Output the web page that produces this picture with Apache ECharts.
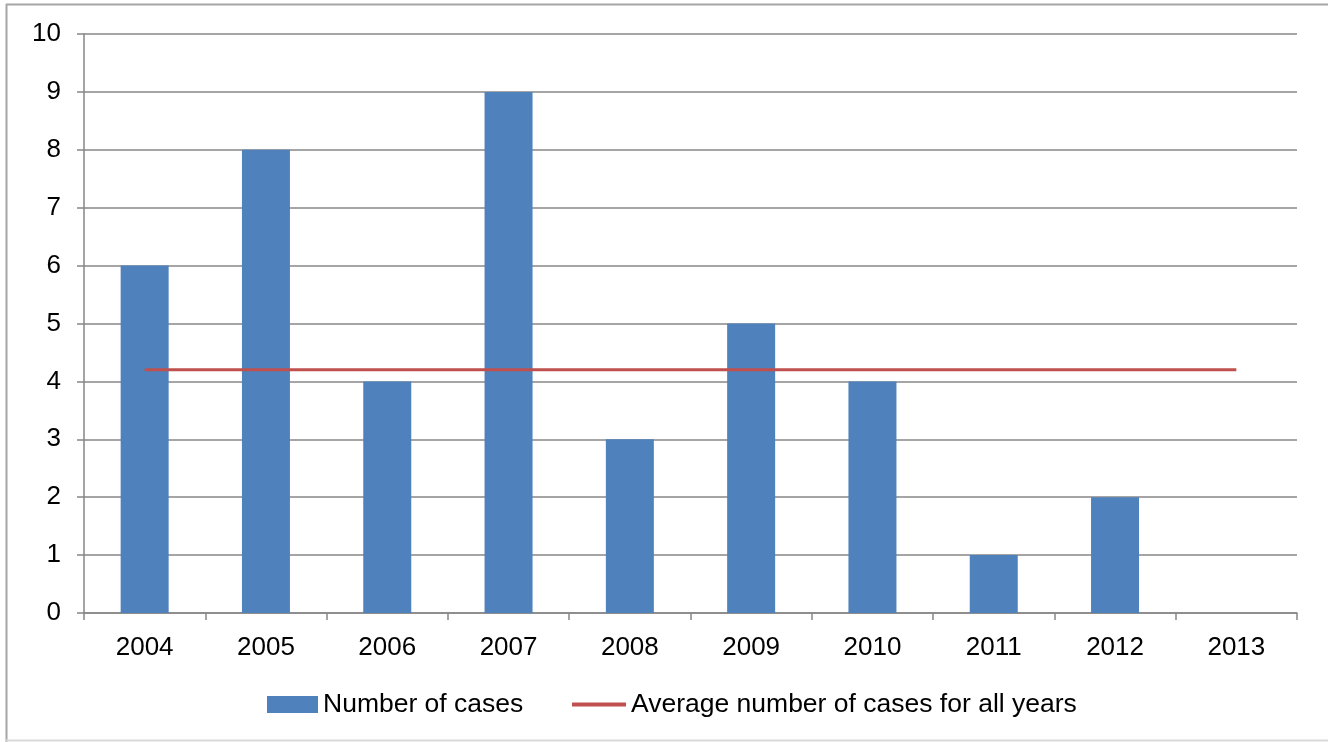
<!DOCTYPE html>
<html>
<head>
<meta charset="utf-8">
<style>
  html, body { margin: 0; padding: 0; background: #ffffff; }
  #chart { width: 1328px; height: 742px; }
</style>
<script src="https://cdn.jsdelivr.net/npm/echarts@6/dist/echarts.min.js"></script>
</head>
<body>
<div id="chart"></div>
<script>
// Yearly case counts and the overall average
const years = ['2004', '2005', '2006', '2007', '2008', '2009', '2010', '2011', '2012', '2013'];
const cases = [6, 8, 4, 9, 3, 5, 4, 1, 2, 0];
const averageCases = [4.2, 4.2, 4.2, 4.2, 4.2, 4.2, 4.2, 4.2, 4.2, 4.2];
const yTicks = [0, 1, 2, 3, 4, 5, 6, 7, 8, 9, 10];

const seriesNames = ['Number of cases', 'Average number of cases for all years'];

const chart = echarts.init(document.getElementById('chart'), null, { renderer: 'canvas' });

const font = 'Liberation Sans, Arial, sans-serif';
const fontSize = 26;
const legendFontSize = 26.5;

chart.setOption({
  animation: false,
  backgroundColor: '#ffffff',
  textStyle: { fontFamily: font },
  graphic: [
    { type: 'line', shape: { x1: 6, y1: 4.5, x2: 1328, y2: 4.5 }, style: { stroke: '#a6a6a6', lineWidth: 2 } },
    { type: 'line', shape: { x1: 6.5, y1: 4, x2: 6.5, y2: 742 }, style: { stroke: '#a6a6a6', lineWidth: 2 } },
    { type: 'line', shape: { x1: 6, y1: 740.5, x2: 1328, y2: 740.5 }, style: { stroke: '#d9d9d9', lineWidth: 2 } }
  ],
  grid: { left: 84, right: 31, top: 34, bottom: 129, containLabel: false },
  legend: [
    {
      left: 267,
      top: 691,
      padding: 0,
      itemWidth: 51,
      itemHeight: 17,
      textStyle: { fontSize: legendFontSize, color: '#000000', fontFamily: font },
      data: [{ name: seriesNames[0], icon: 'rect' }]
    },
    {
      left: 572,
      top: 691,
      padding: 0,
      itemWidth: 54,
      itemHeight: 4,
      textStyle: { fontSize: legendFontSize, color: '#000000', fontFamily: font },
      data: [{ name: seriesNames[1], icon: 'rect' }]
    }
  ],
  xAxis: {
    type: 'category',
    data: years,
    boundaryGap: true,
    axisLine: { lineStyle: { color: '#868686', width: 1.5 } },
    axisTick: { show: true, length: 7, lineStyle: { color: '#868686', width: 1.5 } },
    axisLabel: { fontSize: fontSize, color: '#000000', margin: 22, fontFamily: font },
    splitLine: { show: false }
  },
  yAxis: {
    type: 'value',
    min: yTicks[0],
    max: yTicks[yTicks.length - 1],
    interval: 1,
    axisLine: { show: true, lineStyle: { color: '#868686', width: 1.5 } },
    axisTick: { show: true, length: 7, lineStyle: { color: '#868686', width: 1.5 } },
    axisLabel: { fontSize: fontSize, color: '#000000', margin: 23, fontFamily: font },
    splitLine: { show: true, lineStyle: { color: '#878787', width: 1.5 } }
  },
  series: [
    {
      name: seriesNames[0],
      type: 'bar',
      data: cases,
      barWidth: 48,
      itemStyle: { color: '#4F81BD' }
    },
    {
      name: seriesNames[1],
      type: 'line',
      data: averageCases,
      symbol: 'none',
      lineStyle: { color: '#C0504D', width: 3 },
      itemStyle: { color: '#C0504D' },
      z: 3
    }
  ]
});
</script>
</body>
</html>
